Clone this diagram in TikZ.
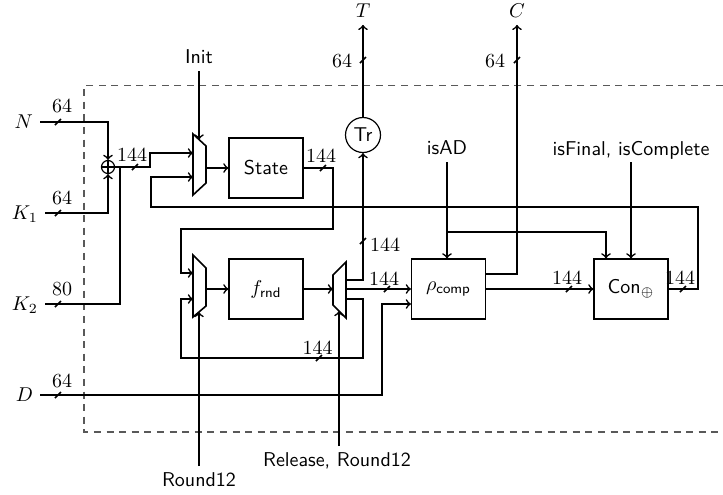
\documentclass[tikz,border=0pt]{standalone}
\usetikzlibrary{calc}
\begin{document}
\begin{tikzpicture}[x=0.5pt,y=-0.5pt,
  wire/.style={thick},
  arr/.style={thick,->},
  blk/.style={draw,line width=0.6pt,minimum width=37pt,minimum height=30pt,inner sep=0pt,font=\sffamily},
  muxbox/.style={thick},
  sig/.style={font=\sffamily,text depth=0pt},
  io/.style={text depth=0pt},
  bw/.style={inner sep=0pt},
  buswidth/.pic={\draw[thick] (-3,3) -- (3,-3);},
]
\useasboundingbox (0,0) rectangle (723,494);

% dashed frame
\draw[dash pattern=on 3.5pt off 2.8pt,line width=0.6pt,black!65] (723,85.5) -- (84,85.5) -- (84,432) -- (723,432);

% inputs
\node[io,anchor=east] (N) at (40,122) {$N$};
\node[io,anchor=east] (K1) at (45,213) {$K_1$};
\node[io,anchor=east] (K2) at (45,304) {$K_2$};
\node[io,anchor=east] (D) at (40,395) {$D$};

% xor
\node[circle,draw,line width=0.6pt,minimum size=6.5pt,inner sep=0pt] (xor) at (108,167) {};
\draw[line width=0.6pt] (xor.north) -- (xor.south) (xor.west) -- (xor.east);

% muxes
\draw[muxbox] (193,134) -- (206,146) -- (206,183) -- (193,195) -- cycle;
\coordinate (m1a) at (193,153);
\coordinate (m1b) at (193,177);
\coordinate (m1o) at (206,168);
\coordinate (m1s) at (199,139.5);
\draw[muxbox] (193,255) -- (206,268) -- (206,306) -- (193,317) -- cycle;
\coordinate (m2a) at (193,273);
\coordinate (m2b) at (193,299);
\coordinate (m2o) at (206,289);
\coordinate (m2s) at (199,312);
\draw[muxbox] (333,275) -- (346,262) -- (346,318) -- (333,305) -- cycle;
\coordinate (m3i) at (333,289);
\coordinate (m3a) at (346,280);
\coordinate (m3b) at (346,289);
\coordinate (m3c) at (346,299);
\coordinate (m3s) at (339,311);

% blocks
\node[blk] (state) at (266,168) {State};
\node[blk] (frnd) at (266,289) {$f_{\mathsf{rnd}}$};
\node[blk] (rho) at (448.5,289) {$\rho_{\mathsf{comp}}$};
\node[blk] (con) at (631,289) {$\mathsf{Con}_{\oplus}$};
\node[circle,draw,line width=0.6pt,minimum size=17.5pt,inner sep=0pt,font=\sffamily] (tr) at (363,135) {Tr};

% outputs
\node[io] (T) at (363,11) {$T$};
\node[io] (C) at (517,11) {$C$};

% control signals
\node[sig] (init) at (199,57) {Init};
\node[sig] (isad) at (447,148) {isAD};
\node[sig] (isfin) at (631,148) {isFinal, isComplete};
\node[sig] (r12) at (199,480) {Round12};
\node[sig] (rel) at (337,460) {Release, Round12};

\coordinate (rhoD) at ($(rho.west)+(0,15)$);
\coordinate (rhoC) at ($(rho.east)+(0,-15)$);
\coordinate (conA) at ($(con.north)+(-25,0)$);
\coordinate (adj) at (447,232);
\coordinate (k2j) at (120,167);

% connectors
\draw[arr] (N.east) -| (xor.north);
\draw[arr] (K1.east) -| (xor.south);
\draw[wire] (K2.east) -| (k2j);
\draw[arr] (xor.east) -- (150,167) |- (m1a);
\draw[arr] (init.south) -- (m1s);
\draw[arr] (m1o) -- (m1o -| state.west);
\draw[arr] (state.east) -| (333,229) -| (181,273) -- (m2a);
\draw[arr] (m2o) -- (m2o -| frnd.west);
\draw[arr] (r12.north) -- (m2s);
\draw[arr] (frnd.east) -- (m3i);
\draw[arr] (rel.north -| m3s) -- (m3s);
\draw[arr] (m3a) -| (tr.south);
\draw[arr] (m3b) -- (m3b -| rho.west);
\draw[arr] (m3c) -| (363,358) -| (181,299) -- (m2b);
\draw[arr] (D.east) -| (382,304) -- (rhoD);
\draw[arr] (tr.north) -- (T.south);
\draw[arr] (rhoC) -| (C.south);
\draw[arr] (rho.east) -- (con.west);
\draw[arr] (isad.south) -- (isad.south |- rho.north);
\draw[arr] (adj) -| (conA);
\draw[arr] (isfin.south) -- (con.north);
\draw[arr] (con.east) -| (698,207) -| (151,177) -- (m1b);

% bus widths
\pic at (58,122) {buswidth};
\node[bw] (wN) at (62,106) {64};
\pic at (58,213) {buswidth};
\node[bw] (wK1) at (62,197.5) {64};
\pic at (58,304) {buswidth};
\node[bw] (wK2) at (62,289) {80};
\pic at (58,395) {buswidth};
\node[bw] (wD) at (62,381) {64};
\pic at (135,167) {buswidth};
\node[bw] (wX) at (132,155) {144};
\pic at (323,168) {buswidth};
\node[bw] (wS) at (321,156) {144};
\pic at (363,241) {buswidth};
\node[bw] (wTr) at (385,245) {144};
\pic at (387,289) {buswidth};
\node[bw] (wM) at (384,278.5) {144};
\pic at (319,358) {buswidth};
\node[bw] (wF) at (317.5,348) {144};
\pic at (569,289) {buswidth};
\node[bw] (wR) at (567,278) {144};
\pic at (683,289) {buswidth};
\node[bw] (wC) at (680,278) {144};
\pic at (363,60) {buswidth};
\node[bw] (wT) at (342,61) {64};
\pic at (517,60) {buswidth};
\node[bw] (wCo) at (495,61) {64};
\end{tikzpicture}
\end{document}
